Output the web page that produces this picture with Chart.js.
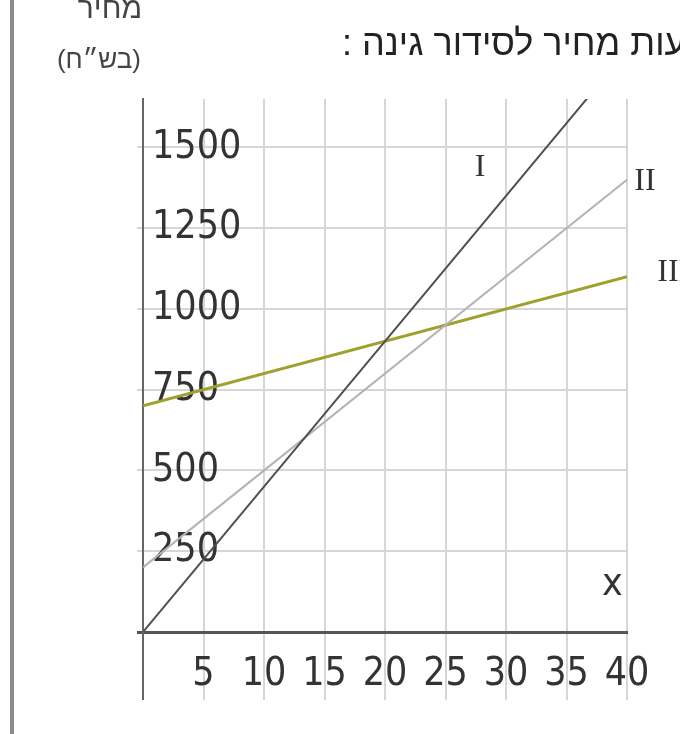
<!DOCTYPE html>
<html><head><meta charset="utf-8">
<script src="https://cdn.jsdelivr.net/npm/chart.js@4.4.1/dist/chart.umd.min.js"></script>
<style>html,body{margin:0;padding:0;background:#fff;overflow:hidden}</style>
</head><body>
<canvas id="c" width="680" height="734"></canvas>
<script>
// ---- data ----
const xValues = [0, 40];
const seriesI = [0, 1800];
const seriesII = [200, 1400];
const seriesIII = [700, 1100];
const xTicks = [0, 5, 10, 15, 20, 25, 30, 35, 40];
const yTicks = [0, 250, 500, 750, 1000, 1250, 1500];
const seriesLabels = ['I', 'II', 'III'];
const titleText = 'הצעות מחיר לסידור גינה :';
const yTitleLine1 = 'מחיר';
const yTitleLine2 = '(בש״ח)';
const xTitle = 'x';

const tickFont = {family: '"Liberation Sans Narrow", "DejaVu Sans Condensed", "Liberation Sans", sans-serif', size: 39};
const hebFont = '"Liberation Sans", Arial, "DejaVu Sans", sans-serif';

function pts(ys) { return xValues.map((x, i) => ({x: x, y: ys[i]})); }

const textPlugin = {
  id: 'texts',
  afterDraw(chart) {
    const c = chart.ctx, xs = chart.scales.x, ys = chart.scales.y;
    c.save();
    // left frame line
    c.fillStyle = '#8c8c8c';
    c.fillRect(10, 0, 4, 734);
    // title (RTL, cut by the right edge)
    c.fillStyle = '#222';
    c.font = '36px ' + hebFont;
    c.direction = 'rtl';
    c.textAlign = 'left';
    c.textBaseline = 'middle';
    c.fillText(titleText, 342, 45);
    // y axis title
    c.fillStyle = '#444';
    c.font = '30px ' + hebFont;
    c.textAlign = 'right';
    c.fillText(yTitleLine1, 142, 10);
    c.font = '26px ' + hebFont;
    c.fillText(yTitleLine2, 141, 61);
    c.direction = 'ltr';
    // series labels
    c.fillStyle = '#333';
    c.font = '32px "Liberation Serif", "Times New Roman", serif';
    c.textAlign = 'center';
    c.fillText(seriesLabels[0], xs.getPixelForValue(27.85), ys.getPixelForValue(1439));
    c.textAlign = 'left';
    c.fillText(seriesLabels[1], xs.getPixelForValue(40.6), ys.getPixelForValue(1393));
    c.fillText(seriesLabels[2], xs.getPixelForValue(42.5), ys.getPixelForValue(1113));
    // x label
    c.font = tickFont.size + 'px ' + tickFont.family;
    c.textAlign = 'center';
    c.fillText(xTitle, xs.getPixelForValue(38.8), ys.getPixelForValue(146));
    c.restore();
  }
};

new Chart(document.getElementById('c'), {
  type: 'scatter',
  data: {
    datasets: [
      {label: seriesLabels[0], data: pts(seriesI), showLine: true, borderColor: '#4f4f4f', borderWidth: 2, pointRadius: 0},
      {label: seriesLabels[1], data: pts(seriesII), showLine: true, borderColor: '#b3b3b3', borderWidth: 2, pointRadius: 0},
      {label: seriesLabels[2], data: pts(seriesIII), showLine: true, borderColor: '#a0a030', borderWidth: 3, pointRadius: 0}
    ]
  },
  options: {
    responsive: false,
    animation: false,
    events: [],
    layout: {padding: {left: 137, right: 53, top: 99, bottom: 0}},
    plugins: {legend: {display: false}, tooltip: {enabled: false}},
    scales: {
      x: {
        type: 'linear', min: 0, max: 40,
        afterBuildTicks: s => { s.ticks = xTicks.map(v => ({value: v})); },
        afterFit: s => { s.height = 102; },
        border: {display: true, color: '#555555', width: 3},
        grid: {
          z: -1, tickLength: 68,
          color: ctx => (ctx.tick && ctx.tick.value === 0) ? '#666666' : '#d6d6d6',
          lineWidth: 2
        },
        ticks: {
          autoSkip: false, maxRotation: 0, padding: -49,
          color: '#333', font: tickFont,
          callback: v => v === 0 ? '' : String(v)
        }
      },
      y: {
        type: 'linear', min: 0, max: 1650,
        afterBuildTicks: s => { s.ticks = yTicks.map(v => ({value: v})); },
        afterFit: s => { s.width = 6; },
        border: {display: true, color: '#666666', width: 2},
        grid: {
          z: -1, tickLength: 6,
          color: ctx => (ctx.tick && ctx.tick.value === 0) ? '#555555' : '#d6d6d6',
          lineWidth: ctx => (ctx.tick && ctx.tick.value === 0) ? 3 : 2
        },
        ticks: {
          mirror: true, padding: 9,
          color: '#333', font: tickFont,
          callback: v => v === 0 ? '' : String(v)
        }
      }
    }
  },
  plugins: [textPlugin]
});
</script>
</body></html>
